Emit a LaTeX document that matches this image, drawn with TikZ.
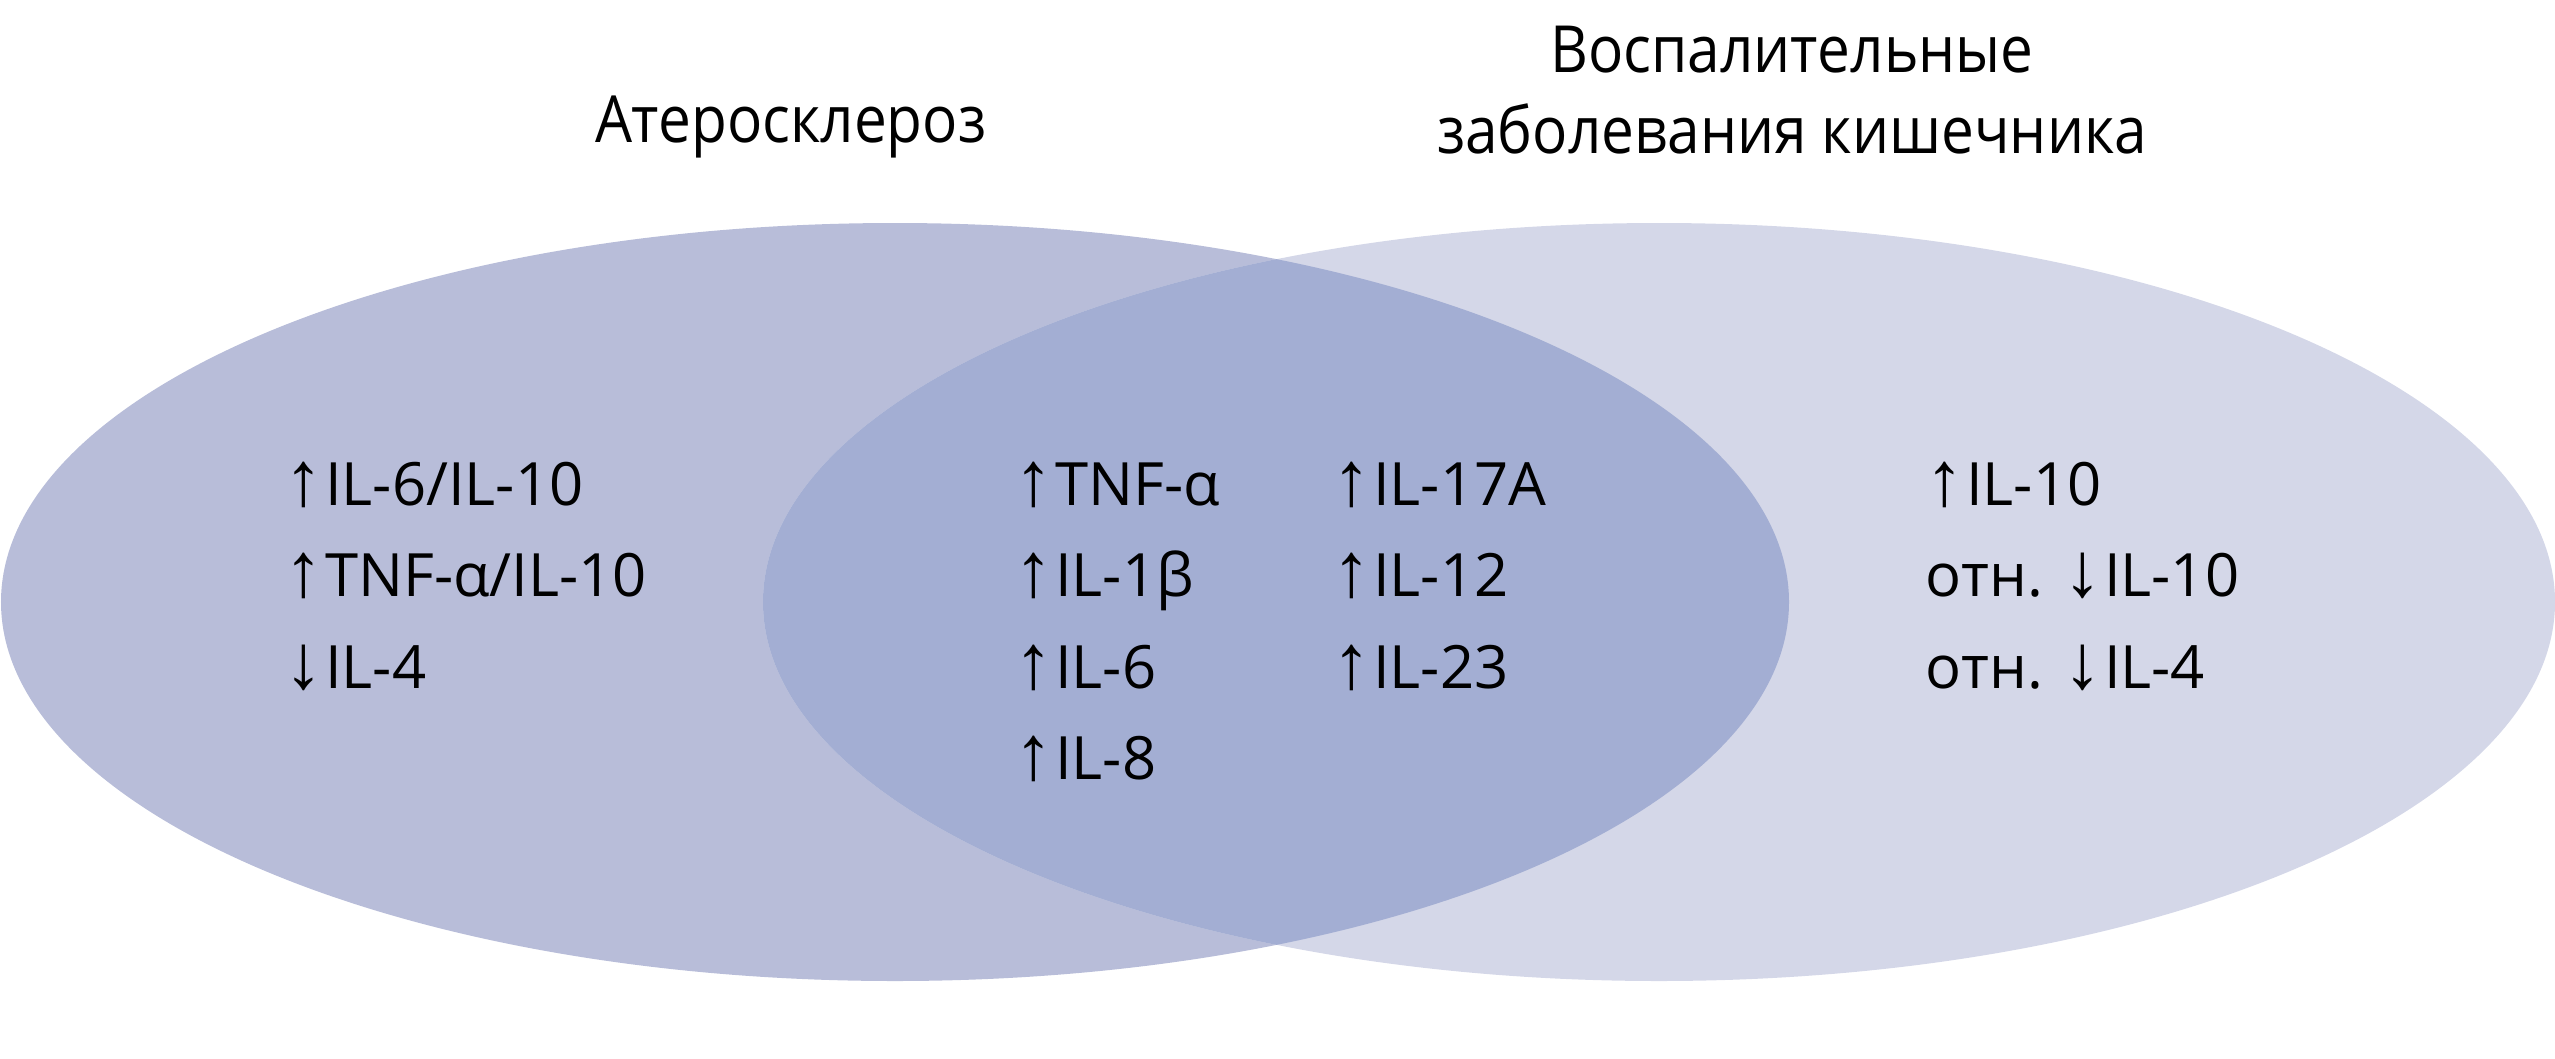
\documentclass[tikz,border=0pt]{standalone}
\usepackage{fontspec}
\setmainfont{Open Sans}
\newfontfamily\arrowfont{Liberation Sans}
\newfontfamily\titrefont[FakeStretch=0.9]{Open Sans}
\newcommand{\uarr}{{\arrowfont\fontsize{22}{20}\selectfont ↑}\kern0.5pt}
\newcommand{\darr}{{\arrowfont\fontsize{22}{20}\selectfont ↓}\kern0.5pt}
\definecolor{atero}{HTML}{B8BDD9}
\definecolor{vzk}{HTML}{D4D7E8}
\definecolor{commun}{HTML}{A3AED3}

\begin{document}
\begin{tikzpicture}
\tikzset{marqueur/.style={anchor=base west,inner sep=0pt,font=\fontsize{17}{20}\selectfont},
titre/.style={anchor=base,inner sep=0pt,font=\titrefont\fontsize{18.5}{22}\selectfont}}
\useasboundingbox (0,0) rectangle (25.55,10.58);

% les deux ellipses
\coordinate (cA) at (8.95,4.56);
\coordinate (cB) at (16.59,4.56);
\fill[atero] (cA) ellipse (8.94 and 3.79);
\fill[vzk] (cB) ellipse (8.96 and 3.79);
\begin{scope}
\clip (cA) ellipse (8.94 and 3.79);
\fill[commun] (cB) ellipse (8.96 and 3.79);
\end{scope}

% titres
\node[titre] (tA) at (7.91,9.16) {Атеросклероз};
\node[titre] (tB1) at (17.92,9.86) {Воспалительные};
\node[titre] (tB2) at (17.92,9.05) {заболевания кишечника};

% marqueurs
\foreach \txt [count=\i] in {\uarr IL-6/IL-10, \uarr TNF-α/IL-10, \darr IL-4}
  \node[marqueur] (a\i) at (2.84,{5.53-0.915*(\i-1)}) {\txt};
\foreach \txt [count=\i] in {\uarr TNF-α, \uarr IL-1β, \uarr IL-6, \uarr IL-8}
  \node[marqueur] (m\i) at (10.14,{5.53-0.915*(\i-1)}) {\txt};
\foreach \txt [count=\i] in {\uarr IL-17A, \uarr IL-12, \uarr IL-23}
  \node[marqueur] (n\i) at (13.32,{5.53-0.915*(\i-1)}) {\txt};
\foreach \txt [count=\i] in {\uarr IL-10, отн. \darr IL-10, отн. \darr IL-4}
  \node[marqueur] (b\i) at (19.25,{5.53-0.915*(\i-1)}) {\txt};

\end{tikzpicture}
\end{document}
